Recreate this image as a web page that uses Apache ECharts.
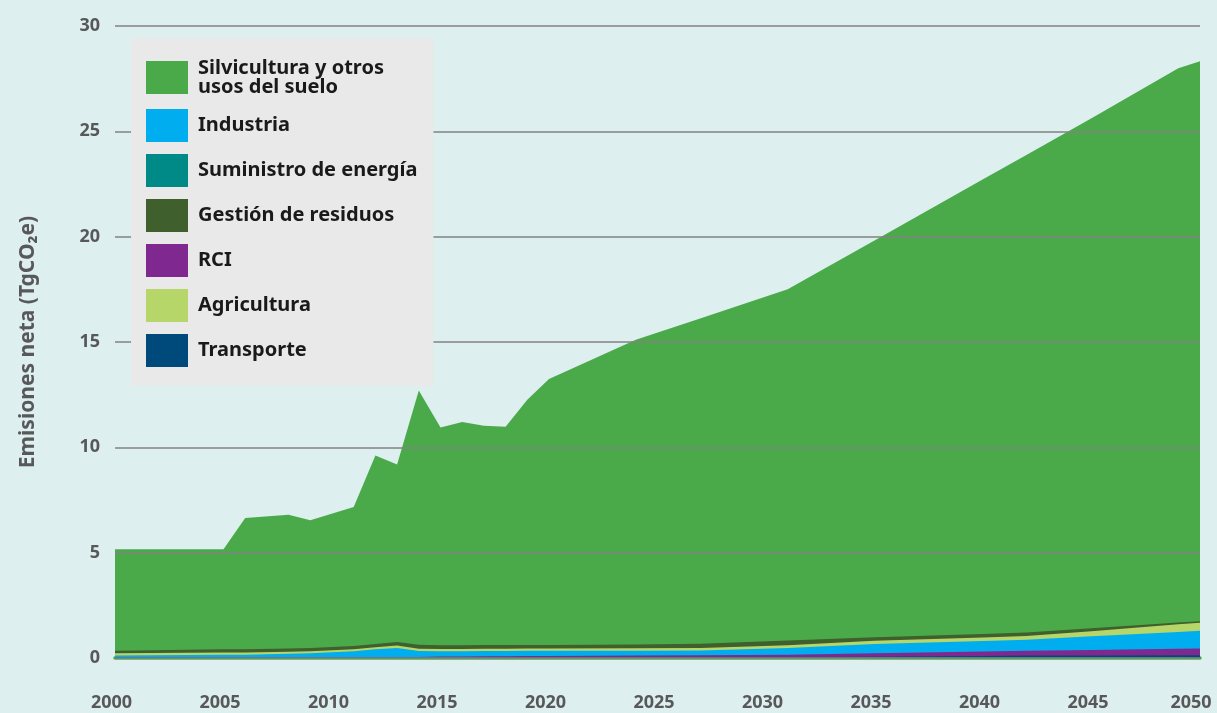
<!DOCTYPE html>
<html>
<head>
<meta charset="utf-8">
<script src="https://cdn.jsdelivr.net/npm/echarts@6/dist/echarts.min.js"></script>
<style>
html,body{margin:0;padding:0;background:#ddefee;}
#chart{width:1217px;height:713px;}
</style>
</head>
<body>
<div id="chart"></div>
<script>
// ---- data (TgCO2e per sector) ----
var years = [2000, 2005, 2006, 2008, 2009, 2011, 2012, 2013, 2014, 2015, 2016, 2017, 2018, 2019, 2020, 2024, 2027, 2031, 2035, 2040, 2042, 2045, 2049, 2050];
var suministro   = [0.01,0.01,0.01,0.01,0.01,0.01,0.01,0.01,0.01,0.01,0.01,0.01,0.01,0.01,0.01,0.01,0.01,0.01,0.02,0.02,0.02,0.02,0.02,0.02];
var transporte   = [0.01,0.01,0.01,0.01,0.01,0.01,0.01,0.01,0.01,0.01,0.01,0.01,0.01,0.02,0.02,0.02,0.02,0.03,0.04,0.08,0.10,0.10,0.11,0.11];
var rci          = [0.02,0.02,0.02,0.02,0.02,0.02,0.02,0.02,0.03,0.05,0.05,0.06,0.06,0.07,0.07,0.09,0.10,0.12,0.17,0.21,0.23,0.26,0.31,0.32];
var industria    = [0.08,0.12,0.12,0.16,0.18,0.28,0.37,0.43,0.28,0.25,0.25,0.25,0.25,0.24,0.24,0.23,0.23,0.32,0.44,0.50,0.52,0.65,0.80,0.84];
var agricultura  = [0.10,0.10,0.10,0.10,0.10,0.10,0.10,0.12,0.11,0.11,0.11,0.11,0.11,0.11,0.11,0.11,0.12,0.13,0.15,0.16,0.17,0.24,0.36,0.38];
var gestion      = [0.12,0.15,0.15,0.15,0.15,0.15,0.15,0.17,0.19,0.18,0.18,0.18,0.18,0.17,0.17,0.18,0.20,0.22,0.17,0.17,0.17,0.14,0.08,0.08];
var silvicultura = [4.82,4.75,6.23,6.35,6.07,6.60,8.95,8.43,12.07,10.33,10.59,10.41,10.36,11.64,12.62,14.47,15.45,16.67,18.83,21.58,22.67,24.21,26.32,26.58];

var names = {
  silv: 'Silvicultura y otros\nusos del suelo',
  ind: 'Industria',
  sum: 'Suministro de energía',
  ges: 'Gestión de residuos',
  rci: 'RCI',
  agr: 'Agricultura',
  tra: 'Transporte'
};
var colors = {
  silv: '#4aaa4a', ind: '#00aeef', sum: '#008a87', ges: '#3f5f2d',
  rci: '#7f288f', agr: '#b6d66a', tra: '#004a7b'
};

// stacking order, bottom to top
var stackOrder = [
  ['sum', suministro], ['tra', transporte], ['rci', rci], ['ind', industria],
  ['agr', agricultura], ['ges', gestion], ['silv', silvicultura]
];
// running totals (stack tops), computed from the sector arrays
var running = years.map(function(){ return 0; });
var layers = stackOrder.map(function(entry){
  running = running.map(function(v, i){ return v + entry[1][i]; });
  return { key: entry[0], tops: running.slice() };
});

function areaSeries(layer){
  var key = layer.key;
  return {
    name: names[key], type: 'line',
    data: years.map(function(y, i){ return [y, +layer.tops[i].toFixed(4)]; }),
    showSymbol: false, symbol: 'none',
    color: colors[key],
    lineStyle: { width: 0 },
    areaStyle: { color: colors[key], opacity: 1 },
    emphasis: { disabled: true }
  };
}
// draw the top layer first so lower layers paint over it
var seriesList = layers.slice().reverse().map(areaSeries);

var chart = echarts.init(document.getElementById('chart'));
var font = "'Noto Sans', sans-serif";
chart.setOption({
  backgroundColor: '#ddefee',
  animation: false,
  textStyle: { fontFamily: font },
  grid: { left: 115, right: 17, top: 26, bottom: 55, containLabel: false },
  legend: {
    orient: 'vertical', left: 131, top: 38, z: 10,
    backgroundColor: '#e8e9e8',
    padding: [20, 16, 19, 15],
    itemWidth: 42, itemHeight: 33, itemGap: 12,
    icon: 'rect',
    selectedMode: false,
    data: [names.silv, names.ind, names.sum, names.ges, names.rci, names.agr, names.tra],
    textStyle: { fontFamily: font, fontSize: 20, fontWeight: 'bold', color: '#1a1a1a', lineHeight: 19, padding: [0, 0, 0, 5] }
  },
  xAxis: {
    type: 'value', min: 2000, max: 2050, interval: 5, offset: 2.5,
    axisLine: { show: true, lineStyle: { color: colors.silv, width: 3.5 } },
    axisTick: { show: false }, splitLine: { show: false },
    axisLabel: {
      margin: 33,
      formatter: function(v){ return v === 2050 ? '{e|' + v + '}' : '{n|' + v + '}'; },
      rich: {
        n: { fontFamily: font, fontSize: 18, fontWeight: 'bold', color: '#58585a', padding: [0, 7, 0, 0] },
        e: { fontFamily: font, fontSize: 18, fontWeight: 'bold', color: '#58585a', padding: [0, 18, 0, 0] }
      }
    }
  },
  yAxis: {
    type: 'value', min: 0, max: 30, interval: 5, z: 5,
    name: 'Emisiones neta (TgCO₂e)', nameLocation: 'middle', nameGap: 76,
    nameTextStyle: { fontFamily: font, fontSize: 21, fontWeight: 'bold', color: '#58585a' },
    axisLine: { show: false }, axisTick: { show: false },
    axisLabel: { margin: 15, fontFamily: font, fontSize: 18, fontWeight: 'bold', color: '#58585a' },
    splitLine: { show: true, lineStyle: { color: '#828282', width: 1.5 } }
  },
  series: seriesList
});
</script>
</body>
</html>
